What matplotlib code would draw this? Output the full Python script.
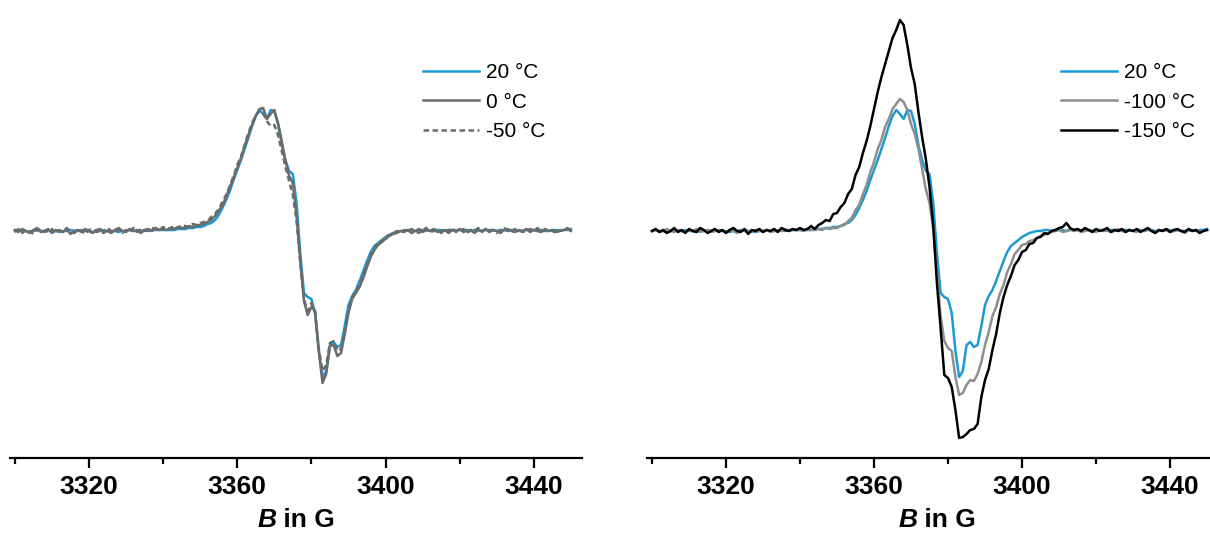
import numpy as np
import matplotlib
matplotlib.use("Agg")
import matplotlib.pyplot as plt
from matplotlib.ticker import MultipleLocator

plt.rcParams['font.family'] = ['Liberation Sans', 'DejaVu Sans']

# Magnetic field sampling (G), 1 G steps
FIELD_G = np.arange(3300, 3451, 1)

# First-derivative EPR signals (arb. units), one value per field point
SIGNAL_20C = [
    0, 1, 0, 0, -1, 0, 1, 0, 0, 1,
    0, 0, -1, 0, 0, 1, 0, 0, 1, 0,
    0, -1, 0, 0, 1, 0, 0, 0, -1, 0,
    0, 1, 0, 0, 0, 1, 0, 1, 1, 1,
    1, 1, 1, 1, 2, 2, 2, 3, 3, 4,
    4, 5, 7, 8, 11, 16, 23, 31, 40, 51,
    61, 71, 82, 93, 105, 115, 121, 117, 112, 121,
    120, 107, 86, 71, 60, 57, 28, -22, -62, -66,
    -68, -82, -120, -146, -140, -114, -111, -116, -114, -95,
    -74, -65, -59, -50, -40, -30, -21, -15, -12, -9,
    -6, -4, -2, -1, 0, 0, 1, 1, 0, 1,
    1, 1, 0, 1, 1, 1, 0, 1, 1, 0,
    1, 1, 1, 0, 1, 1, 0, 1, 1, 1,
    0, 1, 1, 0, 1, 1, 0, 0, 1, 1,
    1, 0, 1, 0, 0, 1, 1, 0, 1, 1,
    2,
]

SIGNAL_0C = [
    1, -1, 2, 0, -2, 1, 3, -1, 0, 2,
    -2, 1, 0, -1, 2, -3, 0, 1, -1, 2,
    0, -2, 1, 2, -1, 0, -2, 1, 3, 0,
    -1, 2, 0, 1, -2, 1, 2, 0, 3, 1,
    2, 1, 3, 2, 4, 3, 3, 5, 4, 6,
    6, 7, 9, 11, 15, 20, 26, 34, 44, 53,
    63, 73, 85, 96, 106, 115, 122, 123, 112, 117,
    121, 108, 90, 70, 55, 48, 15, -30, -70, -84,
    -76, -80, -120, -152, -143, -115, -114, -125, -122, -103,
    -82, -68, -62, -56, -47, -36, -26, -19, -14, -11,
    -8, -5, -3, -2, 0, -1, 1, -2, 0, 2,
    -1, 1, 0, 2, -1, 0, 1, -2, 1, 0,
    2, -1, 0, 1, -2, 1, 0, 2, -1, 1,
    0, -2, 1, 2, 0, -1, 1, 0, 2, -1,
    1, 0, -1, 2, 0, 1, -1, 0, 1, 2,
    0,
]

SIGNAL_M50C = [
    -1, 2, -2, 1, 0, -3, 1, 2, -1, 0,
    2, -2, 1, -1, 3, 0, -2, 1, 0, -3,
    1, 2, -1, 0, -2, 3, 0, -1, 2, -2,
    1, 0, 3, -1, 2, 0, 1, 3, 2, 1,
    4, 2, 3, 5, 3, 6, 5, 4, 7, 6,
    8, 9, 10, 14, 17, 22, 29, 36, 45, 55,
    66, 74, 86, 98, 108, 116, 120, 118, 110, 105,
    106, 96, 80, 64, 50, 36, 10, -32, -68, -80,
    -72, -82, -118, -140, -134, -112, -110, -120, -118, -100,
    -80, -66, -60, -53, -44, -34, -24, -18, -12, -10,
    -6, -4, -3, 0, -2, 1, -1, 2, 0, -2,
    1, 3, -1, 0, 2, -2, 1, 0, 3, -1,
    0, 2, -2, 1, 0, 3, -1, 2, 0, 1,
    -2, 1, 3, 0, -1, 2, 1, -1, 0, 2,
    0, 3, -1, 1, 2, 0, -2, 1, 0, 3,
    1,
]

SIGNAL_M100C = [
    0, 1, -1, 0, 2, 0, -1, 1, 0, -1,
    1, 0, 2, -1, 0, 1, -1, 0, 1, 0,
    -1, 1, 0, -2, 0, 1, 0, -1, 1, 0,
    0, 1, -1, 0, 1, 0, 2, 0, 1, 1,
    1, 0, 2, 1, 1, 2, 1, 3, 2, 3,
    3, 5, 6, 10, 13, 21, 26, 37, 46, 59,
    69, 82, 91, 104, 112, 122, 127, 132, 129, 121,
    107, 97, 82, 62, 42, 28, 2, -40, -85, -110,
    -117, -120, -146, -164, -162, -154, -149, -150, -143, -131,
    -114, -101, -85, -76, -63, -54, -41, -33, -23, -19,
    -14, -13, -10, -9, -7, -5, -4, -2, -1, 0,
    1, -1, 0, 2, 0, 1, -1, 0, 1, 0,
    -1, 1, 0, 1, -1, 0, 2, 0, -1, 1,
    0, -1, 1, 0, 2, 0, -1, 1, 0, 1,
    -1, 0, 1, 0, -2, 1, 0, 1, -1, 0,
    1,
]

SIGNAL_M150C = [
    0, 2, -1, 1, -2, 0, 3, -1, 1, -2,
    2, 0, -1, 3, 1, -2, 0, 2, -1, 1,
    -2, 1, 3, 0, -1, 2, -3, 1, 0, 2,
    -1, 1, 0, 2, -1, 3, 1, 0, 2, 1,
    3, 1, 2, 5, 2, 6, 8, 11, 10, 17,
    18, 24, 28, 37, 42, 56, 64, 78, 90, 105,
    122, 139, 154, 167, 180, 193, 201, 211, 206, 186,
    163, 147, 119, 94, 72, 44, 6, -52, -97, -144,
    -147, -156, -179, -207, -206, -203, -199, -198, -193, -166,
    -149, -138, -119, -103, -82, -66, -54, -45, -34, -29,
    -21, -19, -13, -12, -7, -6, -2, -3, 0, 1,
    3, 4, 8, 3, 1, 2, 0, 3, 1, -1,
    2, 0, 1, 3, -1, 1, 0, 2, -1, 1,
    0, 2, -1, 1, 3, 0, -2, 1, 0, 2,
    -1, 1, 2, 0, -1, 2, 0, 1, -2, 0,
    1,
]

LEFT_LABELS = ["20 °C", "0 °C", "-50 °C"]
RIGHT_LABELS = ["20 °C", "-100 °C", "-150 °C"]
MAJOR_TICKS = [3320, 3360, 3400, 3440]

BLUE = "#1b9ad6"
DARK_GRAY = "#6b6b6b"
MID_GRAY = "#8e8e8e"
BLACK = "#000000"

W, H = 1210, 534
fig = plt.figure(figsize=(W / 100, H / 100), dpi=100)

ax_l = fig.add_axes([10 / W, 76 / H, 572 / W, 458 / H])
ax_r = fig.add_axes([647 / W, 76 / H, 563 / W, 458 / H])

lw = 1.8
ax_l.plot(FIELD_G, SIGNAL_20C, color=BLUE, lw=lw, label=LEFT_LABELS[0])
ax_l.plot(FIELD_G, SIGNAL_0C, color=DARK_GRAY, lw=lw, label=LEFT_LABELS[1])
ax_l.plot(FIELD_G, SIGNAL_M50C, color=DARK_GRAY, lw=lw, ls=(0, (2.2, 1.4)),
          label=LEFT_LABELS[2])

ax_r.plot(FIELD_G, SIGNAL_20C, color=BLUE, lw=lw, label=RIGHT_LABELS[0])
ax_r.plot(FIELD_G, SIGNAL_M100C, color=MID_GRAY, lw=lw, label=RIGHT_LABELS[1])
ax_r.plot(FIELD_G, SIGNAL_M150C, color=BLACK, lw=lw, label=RIGHT_LABELS[2])

ax_l.set_xlim(3298.7, 3453.0)
ax_r.set_xlim(3298.65, 3450.8)

for ax in (ax_l, ax_r):
    ax.set_ylim(-227, 231)
    for side in ("left", "right", "top"):
        ax.spines[side].set_visible(False)
    ax.spines["bottom"].set_linewidth(1.6)
    ax.set_yticks([])
    ax.xaxis.set_minor_locator(MultipleLocator(20))
    ax.set_xticks(MAJOR_TICKS)
    ax.tick_params(axis="x", which="major", length=7, width=1.6, direction="out",
                   labelsize=19, pad=5)
    ax.tick_params(axis="x", which="minor", length=4, width=1.6, direction="out")
    for lab in ax.get_xticklabels():
        lab.set_fontweight("bold")
    ax.patch.set_visible(False)


def field_label(xc):
    """Axis title with a bold-italic field symbol followed by bold units."""
    t1 = fig.text(0, 0, "B", fontsize=19, fontweight="bold", fontstyle="italic")
    t2 = fig.text(0, 0, " in G", fontsize=19, fontweight="bold")
    fig.canvas.draw()
    r = fig.canvas.get_renderer()
    w1 = t1.get_window_extent(r).width
    w2 = t2.get_window_extent(r).width
    x0 = xc - (w1 + w2) / 2
    y0 = 7
    t1.set_position((x0 / W, y0 / H))
    t2.set_position(((x0 + w1) / W, y0 / H))


field_label(296)
field_label(937)

leg_kw = dict(frameon=False, fontsize=15, handlelength=2.65, handletextpad=0.35,
              labelspacing=0.5, borderaxespad=0)
ax_l.legend(loc="upper left", bbox_to_anchor=((415 - 10) / 572, 1 - 55 / 458), **leg_kw)
ax_r.legend(loc="upper left", bbox_to_anchor=((1053 - 647) / 563, 1 - 55 / 458), **leg_kw)

fig.savefig("out.png", dpi=100)
